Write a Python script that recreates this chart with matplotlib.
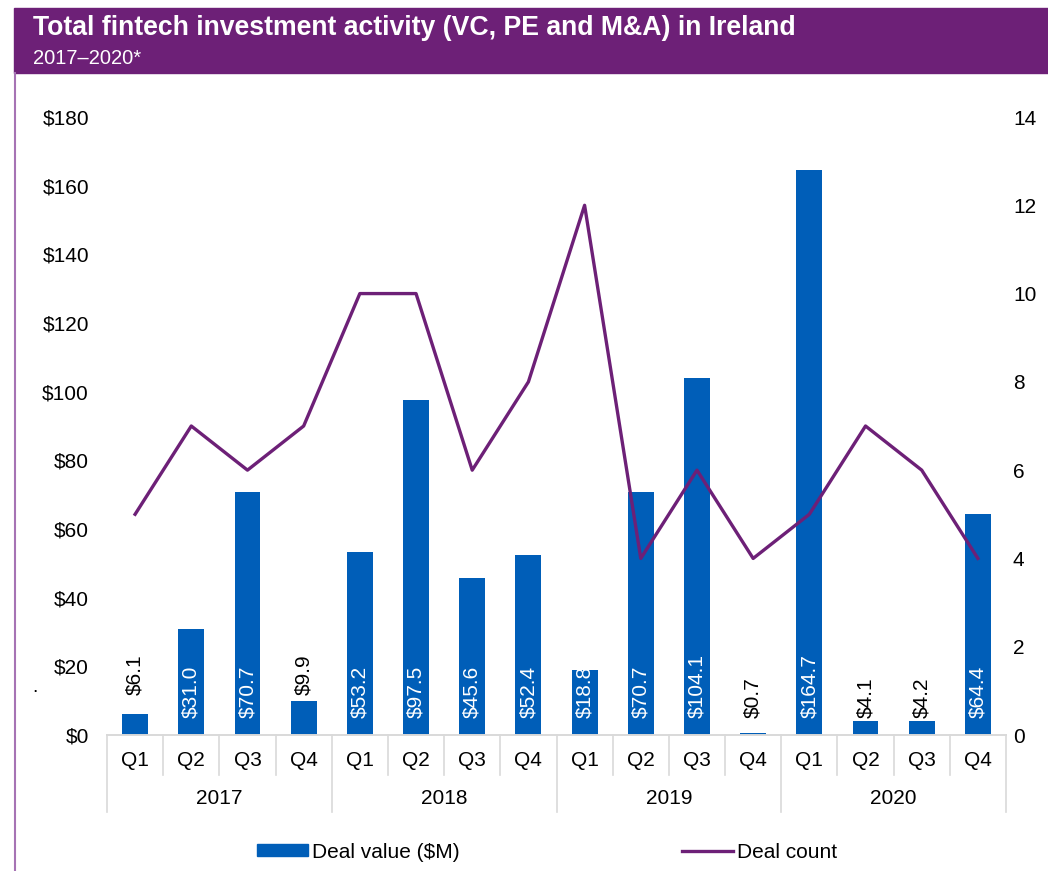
import matplotlib.pyplot as plt
from matplotlib.patches import Rectangle
from matplotlib.lines import Line2D

plt.rcParams["font.family"] = ["Liberation Sans", "DejaVu Sans"]

years = ["2017", "2018", "2019", "2020"]
quarters = ["Q1", "Q2", "Q3", "Q4"]
deal_value = [6.1, 31.0, 70.7, 9.9,
              53.2, 97.5, 45.6, 52.4,
              18.8, 70.7, 104.1, 0.7,
              164.7, 4.1, 4.2, 64.4]
deal_count = [5, 7, 6, 7,
              10, 10, 6, 8,
              12, 4, 6, 4,
              5, 7, 6, 4]

PURPLE = "#6D2077"
BLUE = "#005EB8"
GRID = "#D9D9D9"
FS = 15

fig = plt.figure(figsize=(10.48, 8.71), dpi=100)
W, H = 1048, 871


def fx(px):
    return px / W


def fy(py):
    return 1 - py / H


# header band and left frame
fig.patches.append(Rectangle((fx(14), fy(73)), 1 - fx(14), fy(8) - fy(73),
                             transform=fig.transFigure, color=PURPLE, zorder=0))
fig.lines.append(Line2D([fx(14.5), fx(14.5)], [0, fy(73)], transform=fig.transFigure,
                        color="#A673B4", lw=1.5))
fig.text(fx(33), fy(28), "Total fintech investment activity (VC, PE and M&A) in Ireland",
         color="white", fontsize=19.2, fontweight="bold", va="center", ha="left")
fig.text(fx(33), fy(58), "2017\u20132020*", color="white", fontsize=14.5,
         va="center", ha="left")
fig.text(fx(35), fy(688), ".", fontsize=14, ha="center", va="center")

ax = fig.add_axes([fx(107), fy(735), fx(1006) - fx(107), fy(117) - fy(735)])
ax2 = ax.twinx()

n = len(deal_value)
x = list(range(n))
ax.bar(x, deal_value, width=0.46, color=BLUE, zorder=2)
ax2.plot(x, deal_count, color=PURPLE, lw=2.4, zorder=3)

ax.set_xlim(-0.5, n - 0.5)
ax.set_ylim(0, 180)
ax2.set_ylim(0, 14)
ax.set_yticks(range(0, 181, 20))
ax.set_yticklabels([f"${v}" for v in range(0, 181, 20)], fontsize=FS)
ax2.set_yticks(range(0, 15, 2))
ax2.set_yticklabels([str(v) for v in range(0, 15, 2)], fontsize=FS)
ax.tick_params(axis="y", length=0, pad=13)
ax2.tick_params(axis="y", length=0, pad=5)
ax.set_xticks([])
for a in (ax, ax2):
    for s in ("top", "left", "right"):
        a.spines[s].set_visible(False)
    a.spines["bottom"].set_color(GRID)
    a.spines["bottom"].set_linewidth(1.2)
ax2.patch.set_visible(False)

# value labels, rotated at the bar base
for i, v in enumerate(deal_value):
    if v >= 15:
        ax.text(i, 5, f"${v:.1f}", rotation=90, ha="center", va="bottom",
                color="white", fontsize=FS, zorder=4)
    elif v >= 5:
        ax.text(i, 11.7, f"${v:.1f}", rotation=90, ha="center", va="bottom",
                color="black", fontsize=FS, zorder=4)
    else:
        ax.text(i, 5, f"${v:.1f}", rotation=90, ha="center", va="bottom",
                color="black", fontsize=FS, zorder=4)

# two-level category axis
trans = ax.get_xaxis_transform()
span = 735 - 117
q_bottom = -(775 - 735) / span
y_bottom = -(812 - 735) / span
q_mid = -(760 - 735) / span
y_mid = -(798 - 735) / span
for k in range(n + 1):
    yb = y_bottom if k % 4 == 0 else q_bottom
    ax.plot([k - 0.5, k - 0.5], [0, yb], transform=trans, color=GRID, lw=1.2,
            clip_on=False)
for i in range(n):
    ax.text(i, q_mid, quarters[i % 4], transform=trans, ha="center", va="center",
            fontsize=FS)
for j, yr in enumerate(years):
    ax.text(4 * j + 1.5, y_mid, yr, transform=trans, ha="center", va="center",
            fontsize=FS)

handles = [Rectangle((0, 0), 1, 1, color=BLUE),
           Line2D([0], [0], color=PURPLE, lw=2.4)]
fig.legend(handles, ["Deal value ($M)", "Deal count"], loc="center left",
           bbox_to_anchor=(fx(257), fy(852)), ncol=2, frameon=False, fontsize=FS,
           borderpad=0, borderaxespad=0,
           handlelength=2.45, handleheight=0.55, handletextpad=0.2, columnspacing=10.65)

fig.savefig("out.png", dpi=100)
